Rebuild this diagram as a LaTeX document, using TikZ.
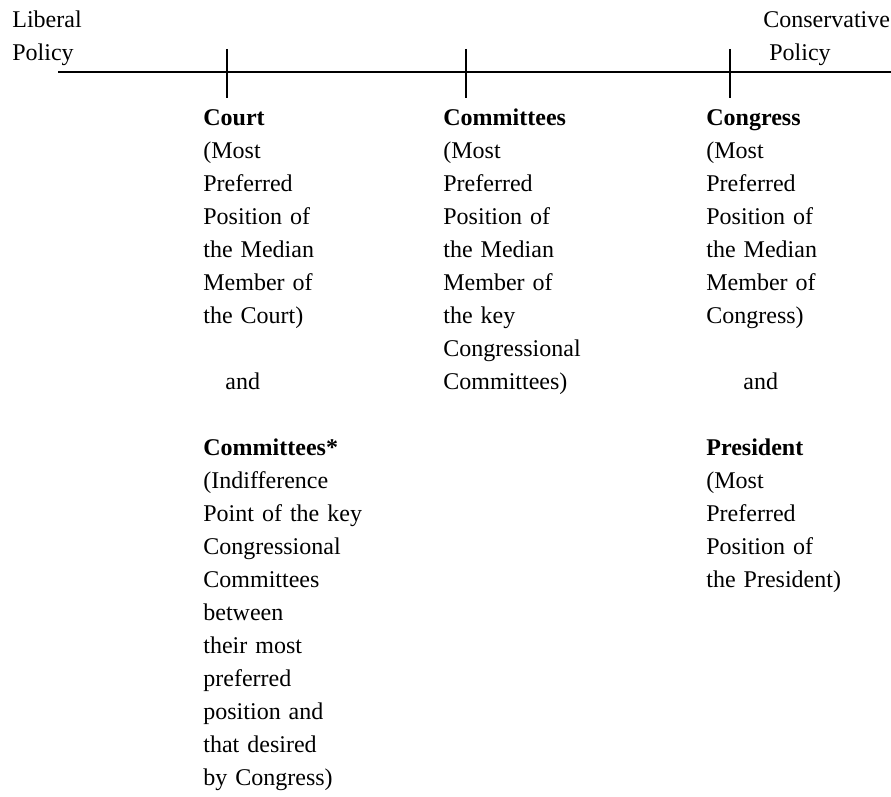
\documentclass[tikz,border=0pt]{standalone}
\usepackage{fontspec}
\setmainfont{Liberation Serif}

\tikzset{
  lbl/.style={anchor=base west, inner sep=0pt, text width=4.6cm, align=left,
    font=\fontsize{12}{16.5}\selectfont},
  tick/.style={line width=0.8pt}
}

\begin{document}
\begin{tikzpicture}[x=0.5pt,y=-0.5pt]
    \useasboundingbox (0,0) rectangle (891,797);
    % policy axis
    \coordinate (lft) at (58,72);
    \coordinate (rgt) at (891,72);
    \draw[line width=1pt] (lft) -- (rgt);
    \foreach \n/\x in {court/227,comm/466,cong/730}{
      \coordinate (\n top) at (\x,49);
      \coordinate (\n bot) at (\x,98);
      \draw[tick] (\n top) -- (\n bot);
    }
    \node[lbl] (lib) at (12,28) {Liberal\\Policy};
    \node[lbl] (cons) at (763,28) {Conservative\\\hspace*{3pt}Policy};
    % court column
    \node[lbl] (court) at (203,126) {\textbf{Court}\\(Most\\Preferred\\Position of\\the Median\\Member of\\the Court)};
    \node[lbl] (courtand) at (225,390) {and};
    \node[lbl] (commstar) at (203,456) {\textbf{Committees*}\\(Indifference\\Point of the key\\Congressional\\Committees\\between\\their most\\preferred\\position and\\that desired\\by Congress)};
    % committees column
    \node[lbl] (comm) at (443,126) {\textbf{Committees}\\(Most\\Preferred\\Position of\\the Median\\Member of\\the key\\Congressional\\Committees)};
    % congress column
    \node[lbl] (cong) at (706,126) {\textbf{Congress}\\(Most\\Preferred\\Position of\\the Median\\Member of\\Congress)};
    \node[lbl] (congand) at (743,390) {and};
    \node[lbl] (pres) at (706,456) {\textbf{President}\\(Most\\Preferred\\Position of\\the President)};
\end{tikzpicture}
\end{document}
